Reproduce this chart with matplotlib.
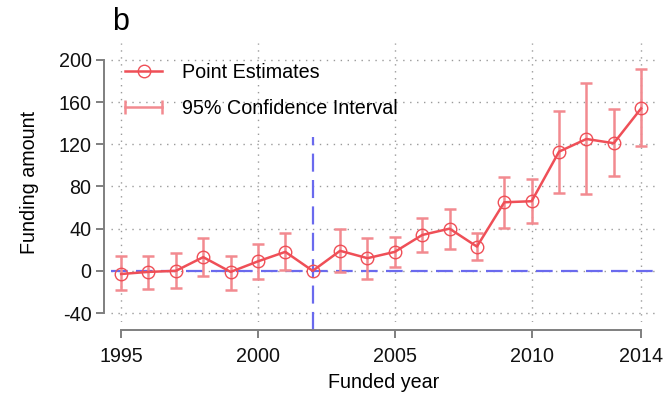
import numpy as np
import matplotlib
matplotlib.use("Agg")
import matplotlib.pyplot as plt
from matplotlib.lines import Line2D
from matplotlib.legend_handler import HandlerLine2D

plt.rcParams['font.family'] = ['Liberation Sans', 'DejaVu Sans']
plt.rcParams['lines.scale_dashes'] = False
plt.rcParams['axes.unicode_minus'] = False

# Event-study estimates by funded year (2002 is the reference year)
years = np.arange(1995, 2015)
estimates = np.array([-3, -1, 0, 13, -1, 9, 18, 0, 19, 12,
                      18, 34, 40, 23, 65, 66, 113, 125, 121, 154], dtype=float)
ci_low = np.array([-18, -17, -16, -5, -18, -8, 1, np.nan, -1, -8,
                   4, 18, 21, 10, 41, 45, 74, 73, 90, 118], dtype=float)
ci_high = np.array([14, 14, 17, 31, 14, 25, 36, np.nan, 40, 31,
                    32, 50, 59, 36, 89, 87, 152, 178, 153, 191], dtype=float)
ref_year = 2002
ref_line_top = 127

x_ticks = [1995, 2000, 2005, 2010, 2014]
y_ticks = [-40, 0, 40, 80, 120, 160, 200]

red = '#EF4F57'
pink = '#F28A90'
blue = '#6A6AEE'
gray = '#7F7F7F'
FS = 14.2

fig = plt.figure(figsize=(6.64, 3.97), dpi=100)
W, H = 664, 397
ax = fig.add_axes([111 / W, 1 - 322 / H, (657 - 111) / W, (322 - 43) / H])

ax.set_xlim(1994.63, 2014.58)
ax.set_ylim(-48.5, 216)

# dotted grid
ax.set_xticks(x_ticks)
ax.set_yticks(y_ticks)
ax.grid(True, linestyle=(0, (1, 4)), color='#9A9A9A', lw=1.0)
ax.set_axisbelow(True)

# reference lines
ax.axhline(0, color=blue, lw=1.6, dashes=(12, 6), zorder=2)
ax.plot([ref_year, ref_year], [-56, ref_line_top], color=blue, lw=1.6,
        dashes=(13, 6), clip_on=False, zorder=2)

# confidence intervals
ok = ~np.isnan(ci_low)
ax.errorbar(years[ok], estimates[ok],
            yerr=[estimates[ok] - ci_low[ok], ci_high[ok] - estimates[ok]],
            fmt='none', ecolor=pink, elinewidth=1.8, capsize=4.5, capthick=1.8,
            zorder=3)

# point estimates
ax.plot(years, estimates, color=red, lw=1.8, marker='o', ms=9,
        mfc='none', mec=red, mew=1.0, zorder=4)

# detached axes
for s in ['top', 'right']:
    ax.spines[s].set_visible(False)
ax.spines['left'].set_position(('outward', 5))
ax.spines['bottom'].set_position(('outward', 5.8))
ax.spines['left'].set_bounds(-40, 200)
ax.spines['bottom'].set_bounds(1995, 2014)
for s in ['left', 'bottom']:
    ax.spines[s].set_color(gray)
    ax.spines[s].set_linewidth(1.4)
ax.tick_params(axis='both', colors=gray, width=1.4, length=6, labelsize=FS,
               labelcolor='#111111')
ax.tick_params(axis='y', pad=3)
ax.tick_params(axis='x', pad=6)

ax.set_xlabel('Funded year', fontsize=FS, labelpad=5.5)
ax.set_ylabel('Funding amount', fontsize=FS, labelpad=14)

fig.text(112 / W, 1 - 30 / H, 'b', fontsize=22, ha='left', va='baseline')

h_point = Line2D([], [], color=red, lw=1.8, marker='o', ms=9, mfc='none', mew=1.0)
h_ci = Line2D([], [], color=pink, lw=1.8, marker='|', ms=10, mew=1.8)
ax.legend([h_point, h_ci], ['Point Estimates', '95% Confidence Interval'],
          handler_map={h_ci: HandlerLine2D(numpoints=2, marker_pad=0)},
          loc='upper left', bbox_to_anchor=(125 / W, 1 - 63 / H),
          bbox_transform=fig.transFigure, frameon=False, fontsize=FS,
          handlelength=1.9, handletextpad=1.0, labelspacing=0.85,
          borderpad=0, borderaxespad=0)

fig.savefig('out.png', dpi=100)
